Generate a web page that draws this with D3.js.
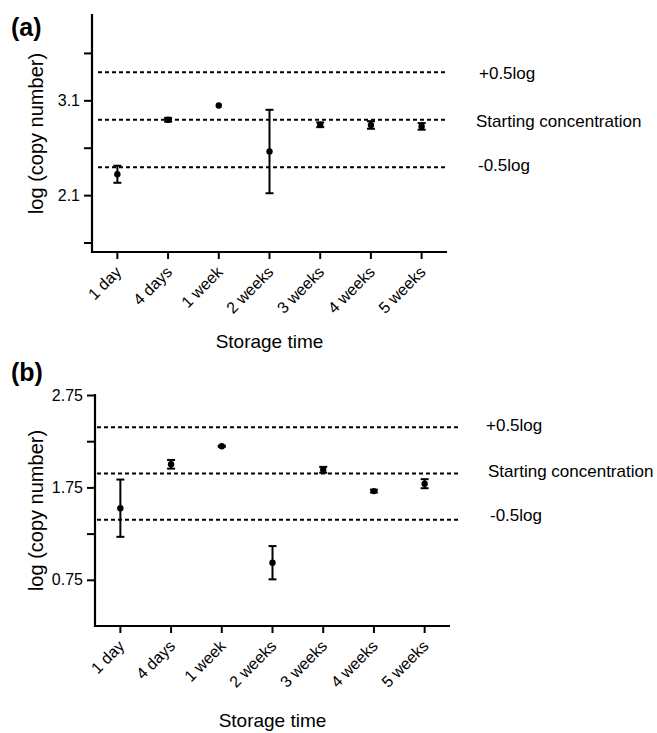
<!DOCTYPE html>
<html>
<head>
<meta charset="utf-8">
<script src="https://cdn.jsdelivr.net/npm/d3@7"></script>
<style>
  body { margin: 0; background: #fff; }
  svg text { font-family: "Liberation Sans", Arial, sans-serif; fill: #000; }
</style>
</head>
<body>
<div id="chart"></div>
<script>
// DATA ------------------------------
const categories = ["1 day", "4 days", "1 week", "2 weeks", "3 weeks", "4 weeks", "5 weeks"];

// panel (a)
const meanA = [2.32, 2.895, 3.045, 2.56, 2.842, 2.84, 2.825];
const errA = [0.09, 0.02, 0, 0.44, 0.025, 0.04, 0.035];
const refA = [3.395, 2.895, 2.395];
const ticksA = [1.6, 2.1, 2.6, 3.1, 3.6];
const tickLabelsA = [2.1, 3.1];

// panel (b)
const meanB = [1.525, 2.0, 2.195, 0.935, 1.94, 1.71, 1.79];
const errB = [0.31, 0.047, 0.006, 0.18, 0.032, 0.015, 0.049];
const refB = [2.40, 1.90, 1.40];
const ticksB = [0.75, 1.25, 1.75, 2.25, 2.75];
const tickLabelsB = [0.75, 1.75, 2.75];

const refLabels = ["+0.5log", "Starting concentration", "-0.5log"];

// CHART INIT ------------------------------
const svg = d3.select("#chart").append("svg")
    .attr("width", 657)
    .attr("height", 733);

function drawPanel(p) {
  const g = svg.append("g");

  const x = d3.scaleBand().domain(categories).range([p.left, p.right]).padding(0);
  const y = d3.scaleLinear().domain(p.domain).range([p.bottom, p.top]);

  // reference lines
  g.selectAll(".ref").data(p.refs).enter().append("line")
      .attr("x1", p.refStart).attr("x2", p.refEnd)
      .attr("y1", d => y(d)).attr("y2", d => y(d))
      .attr("stroke", "#000").attr("stroke-width", 2)
      .attr("stroke-dasharray", "4,3");

  g.selectAll(".reflabel").data(refLabels).enter().append("text")
      .attr("x", (d, i) => p.labelX[i])
      .attr("y", (d, i) => y(p.refs[i]) + p.labelDy[i])
      .attr("dy", "0.35em")
      .style("font-size", "17px")
      .text(d => d);

  // axes
  const yAxis = d3.axisLeft(y)
      .tickValues(p.ticks)
      .tickSizeInner(8).tickSizeOuter(0).tickPadding(4)
      .tickFormat(d => p.tickLabels.includes(d) ? d3.format("")(d) : "");
  const yg = g.append("g").attr("transform", "translate(" + p.left + ",0)").call(yAxis);

  const xAxis = d3.axisBottom(x).tickSizeInner(7).tickSizeOuter(0);
  const xg = g.append("g").attr("transform", "translate(0," + p.bottom + ")").call(xAxis);

  [yg, xg].forEach(a => {
    a.select(".domain").attr("stroke-width", 2.2);
    a.selectAll(".tick line").attr("stroke-width", 2);
  });
  yg.selectAll("text").style("font-size", "16px");
  xg.selectAll("text")
      .style("font-size", "16px")
      .attr("text-anchor", "end")
      .attr("dy", null)
      .attr("y", null)
      .attr("transform", "translate(5,21) rotate(-45)");
  yg.select(".domain").attr("d", "M0," + (p.bottom + 1) + "V" + (p.top - 1));
  xg.select(".domain").attr("d", "M" + (p.left - 1) + ",0H" + p.right);

  // error bars + points
  const cx = d => x(d.cat) + x.bandwidth() / 2;
  const pts = categories.map((c, i) => ({cat: c, m: p.mean[i], e: p.err[i]}));
  const eb = g.selectAll(".eb").data(pts).enter().append("g").attr("class", "eb");
  const withErr = eb.filter(d => d.e > 0);
  withErr.append("line")
      .attr("x1", cx).attr("x2", cx)
      .attr("y1", d => y(d.m + d.e)).attr("y2", d => y(d.m - d.e))
      .attr("stroke", "#000").attr("stroke-width", 2);
  withErr.append("line")
      .attr("x1", d => cx(d) - 4).attr("x2", d => cx(d) + 4)
      .attr("y1", d => y(d.m + d.e)).attr("y2", d => y(d.m + d.e))
      .attr("stroke", "#000").attr("stroke-width", 2);
  withErr.append("line")
      .attr("x1", d => cx(d) - 4).attr("x2", d => cx(d) + 4)
      .attr("y1", d => y(d.m - d.e)).attr("y2", d => y(d.m - d.e))
      .attr("stroke", "#000").attr("stroke-width", 2);
  eb.append("circle")
      .attr("cx", cx).attr("cy", d => y(d.m))
      .attr("r", 3.2).attr("fill", "#000");

  // titles
  g.append("text")
      .attr("transform", "translate(" + p.yTitleX + "," + (p.top + p.bottom) / 2 + ") rotate(-90)")
      .attr("text-anchor", "middle")
      .style("font-size", "20px")
      .text("log (copy number)");
  g.append("text")
      .attr("x", (p.left + p.right) / 2)
      .attr("y", p.xTitleY)
      .attr("text-anchor", "middle")
      .style("font-size", "19px")
      .text("Storage time");
  g.append("text")
      .attr("x", 11)
      .attr("y", p.tagY)
      .style("font-size", "25px")
      .style("font-weight", "bold")
      .text(p.tag);
}

drawPanel({
  tag: "(a)", tagY: 36,
  left: 92, right: 447, top: 15, bottom: 252,
  domain: [1.5, 4.0],
  mean: meanA, err: errA, refs: refA,
  ticks: ticksA, tickLabels: tickLabelsA,
  refStart: 98, refEnd: 447,
  labelX: [479, 476, 478], labelDy: [1, 1, -2],
  yTitleX: 43, xTitleY: 348
});

drawPanel({
  tag: "(b)", tagY: 381,
  left: 95, right: 450, top: 395, bottom: 626,
  domain: [0.25, 2.75],
  mean: meanB, err: errB, refs: refB,
  ticks: ticksB, tickLabels: tickLabelsB,
  refStart: 97, refEnd: 458,
  labelX: [486, 488, 490], labelDy: [-2, -2, -5],
  yTitleX: 43, xTitleY: 727
});
</script>
</body>
</html>
